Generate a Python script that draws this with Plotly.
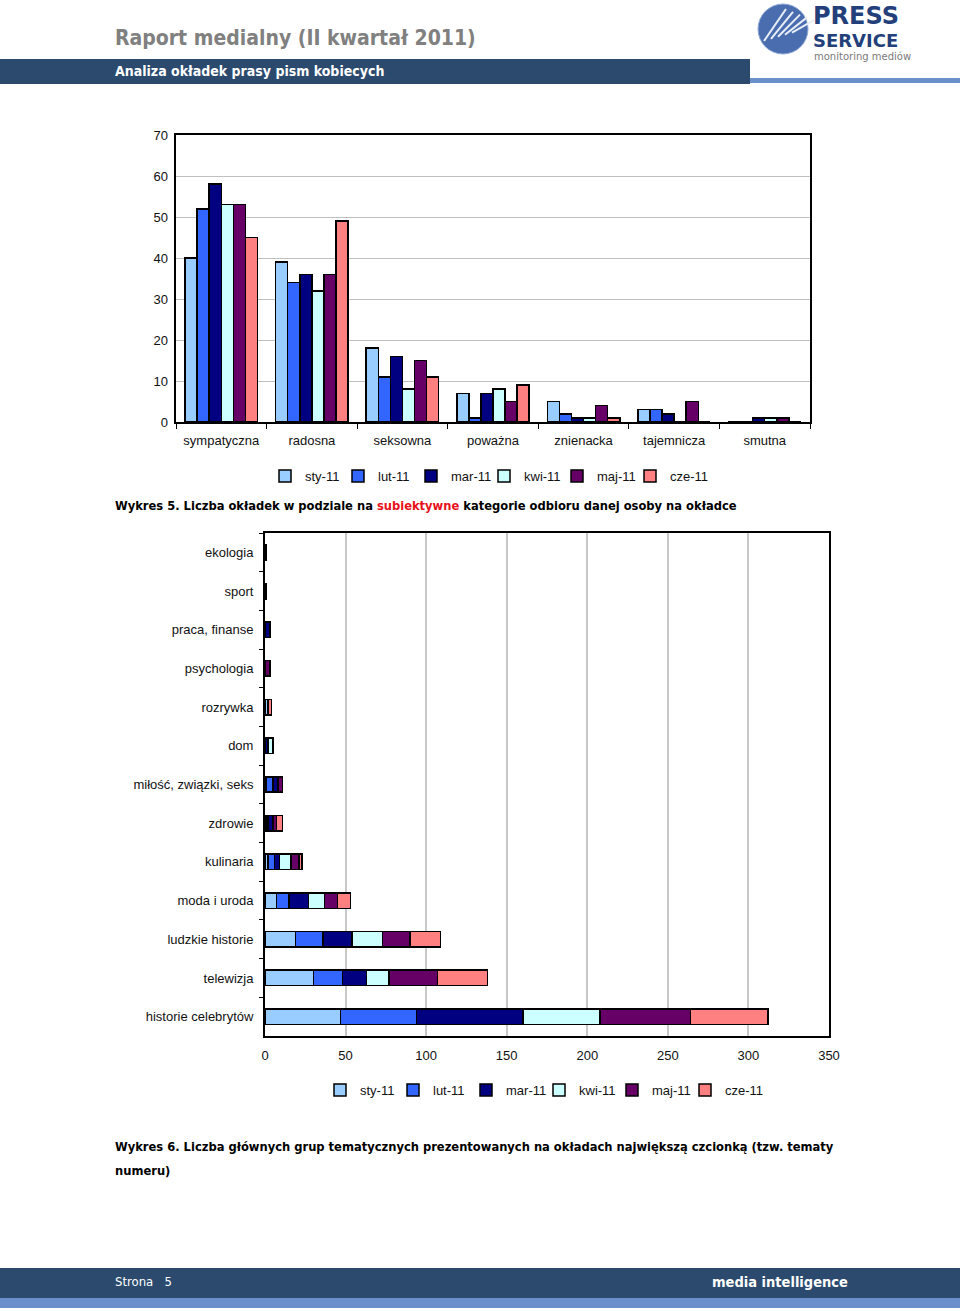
import plotly.graph_objects as go

# ---------------- data ----------------
months = ["sty-11", "lut-11", "mar-11", "kwi-11", "maj-11", "cze-11"]
colors = ["#99CCFF", "#3366FF", "#000080", "#CCFFFF", "#660066", "#FF8080"]

cat1 = ["sympatyczna", "radosna", "seksowna", "poważna", "znienacka", "tajemnicza", "smutna"]
sty1 = [40, 39, 18, 7, 5, 3, 0]
lut1 = [52, 34, 11, 1, 2, 3, 0]
mar1 = [58, 36, 16, 7, 1, 2, 1]
kwi1 = [53, 32, 8, 8, 1, 0, 1]
maj1 = [53, 36, 15, 5, 4, 5, 1]
cze1 = [45, 49, 11, 9, 1, 0, 0]
series1 = [sty1, lut1, mar1, kwi1, maj1, cze1]

cat2 = ["historie celebrytów", "telewizja", "ludzkie historie", "moda i uroda", "kulinaria",
        "zdrowie", "miłość, związki, seks", "dom", "rozrywka", "psychologia",
        "praca, finanse", "sport", "ekologia"]
sty2 = [47, 30, 19, 7, 2, 1, 1, 0, 2, 0, 0, 0, 0]
lut2 = [47, 18, 17, 8, 4, 1, 4, 0, 0, 0, 0, 0, 0]
mar2 = [66, 15, 18, 12, 3, 3, 3, 2, 0, 0, 3, 1, 1]
kwi2 = [48, 14, 19, 10, 7, 0, 0, 3, 0, 0, 0, 0, 0]
maj2 = [56, 30, 17, 8, 5, 2, 3, 0, 0, 3, 0, 0, 0]
cze2 = [48, 31, 19, 8, 2, 4, 0, 0, 2, 0, 0, 0, 0]
series2 = [sty2, lut2, mar2, kwi2, maj2, cze2]

W, H = 960, 1314
def py(y):
    return 1 - y / H
def px(x):
    return x / W

fig = go.Figure()

# chart 1: grouped (distinct offsetgroups -> side by side)
for i, (name, col, vals) in enumerate(zip(months, colors, series1)):
    fig.add_trace(go.Bar(x=cat1, y=vals, name=name, offsetgroup=str(i),
                         marker=dict(color=col, line=dict(color="black", width=1.5)),
                         xaxis="x", yaxis="y", legend="legend",
                         legendwidth=44 if i == len(months) - 1 else None))

# chart 2: stacked (same offsetgroup -> stacked)
for i, (name, col, vals) in enumerate(zip(months, colors, series2)):
    fig.add_trace(go.Bar(y=cat2, x=vals, name=name, orientation="h", offsetgroup="h",
                         width=0.4,
                         marker=dict(color=col, line=dict(color="black", width=1.5)),
                         xaxis="x2", yaxis="y2", legend="legend2",
                         legendwidth=44 if i == len(months) - 1 else None))

tickfont = dict(family="Liberation Sans, Arial", size=13, color="#111")
legfont = dict(family="Liberation Sans, Arial", size=13, color="#111")

fig.update_layout(
    width=W, height=H, margin=dict(l=0, r=0, t=0, b=0, autoexpand=False),
    paper_bgcolor="white", plot_bgcolor="white",
    barmode="stack",
    bargap=0.2, bargroupgap=0,
    xaxis=dict(domain=[px(176), px(810)], anchor="y", showline=True, linecolor="black", linewidth=1.5,
               mirror=True, ticks="outside", tickson="boundaries", ticklen=5, tickcolor="black",
               tickfont=tickfont, showgrid=False, fixedrange=True, automargin=False,
               ticklabelstandoff=6),
    yaxis=dict(domain=[py(422), py(135)], anchor="x", range=[0, 70], dtick=10, showline=True,
               linecolor="black", linewidth=1.5, mirror=True, gridcolor="#c0c0c0", gridwidth=1,
               ticks="", tickfont=tickfont, zeroline=False, ticksuffix=" ", automargin=False),
    xaxis2=dict(domain=[px(265), px(829)], anchor="y2", range=[0, 350], dtick=50, showline=True,
                linecolor="black", linewidth=1.5, mirror=True, gridcolor="#c8c8c8", gridwidth=1.5,
                ticks="", tickfont=tickfont, zeroline=False, automargin=False,
                ticklabelstandoff=7),
    yaxis2=dict(domain=[py(1036), py(533)], anchor="x2", showline=True, linecolor="black",
                linewidth=1.5, mirror=True, ticks="outside", tickson="boundaries", ticklen=4,
                tickcolor="black", tickfont=tickfont, showgrid=False, ticksuffix="  ", automargin=False),
    legend=dict(orientation="h", x=px(492), xanchor="center", y=py(476), yanchor="middle",
                font=legfont, itemwidth=30, entrywidth=28, entrywidthmode="pixels",
                traceorder="normal", bgcolor="rgba(0,0,0,0)"),
    legend2=dict(orientation="h", x=px(547), xanchor="center", y=py(1090), yanchor="middle",
                 font=legfont, itemwidth=30, entrywidth=28, entrywidthmode="pixels",
                 traceorder="normal", bgcolor="rgba(0,0,0,0)"),
)

shapes = []
# header band
shapes.append(dict(type="rect", xref="paper", yref="paper", x0=0, x1=px(750), y0=py(84), y1=py(59),
                   fillcolor="#2B4A6E", line=dict(width=0), layer="below"))
shapes.append(dict(type="rect", xref="paper", yref="paper", x0=px(750), x1=1, y0=py(83), y1=py(78),
                   fillcolor="#6A8FCB", line=dict(width=0), layer="below"))
# footer band
shapes.append(dict(type="rect", xref="paper", yref="paper", x0=0, x1=1, y0=py(1298), y1=py(1268),
                   fillcolor="#2B4A6E", line=dict(width=0), layer="below"))
shapes.append(dict(type="rect", xref="paper", yref="paper", x0=0, x1=1, y0=py(1308), y1=py(1298),
                   fillcolor="#6A8FCB", line=dict(width=0), layer="below"))
# logo globe
shapes.append(dict(type="circle", xref="paper", yref="paper", x0=px(758), x1=px(808), y0=py(54), y1=py(4),
                   fillcolor="#4A6DB0", line=dict(color="#8FA9D8", width=1)))
for k in range(5):
    off = k * 7
    shapes.append(dict(type="line", xref="paper", yref="paper",
                       x0=px(764 + off), y0=py(41 - off * 0.3), x1=px(786 + off), y1=py(9 + off * 0.4),
                       line=dict(color="#E8EEF8", width=2)))
fig.update_layout(shapes=shapes)

ann = []
ann.append(dict(text="<b>Raport medialny (II kwartał 2011)</b>", x=px(113), y=py(38), xref="paper", yref="paper",
                xanchor="left", yanchor="middle", showarrow=False,
                font=dict(family="DejaVu Sans Condensed, DejaVu Sans", size=21, color="#808080")))
ann.append(dict(text="<b>Analiza okładek prasy pism kobiecych</b>", x=px(113), y=py(71), xref="paper", yref="paper",
                xanchor="left", yanchor="middle", showarrow=False,
                font=dict(family="DejaVu Sans Condensed, DejaVu Sans", size=14, color="white")))
ann.append(dict(text="<b>PRESS</b>", x=px(811), y=py(16), xref="paper", yref="paper",
                xanchor="left", yanchor="middle", showarrow=False,
                font=dict(family="DejaVu Sans", size=24, color="#23407A")))
ann.append(dict(text="<b>SERVICE</b>", x=px(811), y=py(40), xref="paper", yref="paper",
                xanchor="left", yanchor="middle", showarrow=False,
                font=dict(family="DejaVu Sans", size=18, color="#23407A")))
ann.append(dict(text="monitoring mediów", x=px(812), y=py(56), xref="paper", yref="paper",
                xanchor="left", yanchor="middle", showarrow=False,
                font=dict(family="DejaVu Sans", size=10, color="#7a7a7a")))
capfont = dict(family="DejaVu Sans Condensed, DejaVu Sans", size=12.8, color="black")
ann.append(dict(text="<b>Wykres 5. Liczba okładek w podziale na <span style='color:#E8101A'>subiektywne</span> kategorie odbioru danej osoby na okładce</b>",
                x=px(113), y=py(505), xref="paper", yref="paper", xanchor="left", yanchor="middle",
                showarrow=False, font=capfont))
ann.append(dict(text="<b>Wykres 6. Liczba głównych grup tematycznych prezentowanych na okładach największą czcionką (tzw. tematy</b>",
                x=px(113), y=py(1146), xref="paper", yref="paper", xanchor="left", yanchor="middle",
                showarrow=False, font=capfont))
ann.append(dict(text="<b>numeru)</b>", x=px(113), y=py(1170), xref="paper", yref="paper", xanchor="left",
                yanchor="middle", showarrow=False, font=capfont))
ann.append(dict(text="Strona   5", x=px(113), y=py(1281), xref="paper", yref="paper", xanchor="left",
                yanchor="middle", showarrow=False,
                font=dict(family="DejaVu Sans Condensed, DejaVu Sans", size=13, color="white")))
ann.append(dict(text="<b>media intelligence</b>", x=px(850), y=py(1282), xref="paper", yref="paper",
                xanchor="right", yanchor="middle", showarrow=False,
                font=dict(family="DejaVu Sans Condensed, DejaVu Sans", size=14.5, color="white")))
fig.update_layout(annotations=ann)

fig.write_html("out.html", config={"displayModeBar": False},
               post_script="document.body.style.margin='0';document.body.style.overflow='hidden';")
